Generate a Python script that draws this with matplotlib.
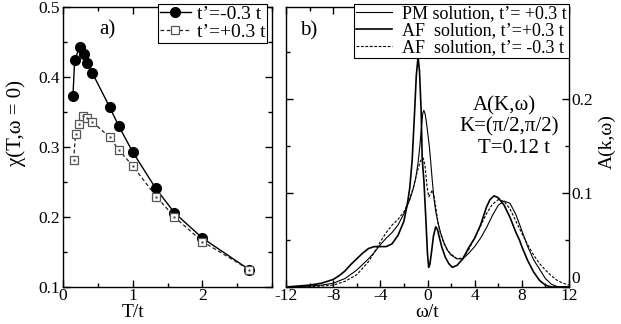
import matplotlib
matplotlib.use("Agg")
import matplotlib.pyplot as plt
from matplotlib.ticker import MultipleLocator, FixedLocator

plt.rcParams['font.family'] = ['Liberation Serif', 'DejaVu Serif']

# ---------------- panel a data ----------------
T_neg = [0.143, 0.167, 0.24, 0.30, 0.345, 0.42, 0.67, 0.80, 1.0, 1.33, 1.6, 2.0, 2.67]
chi_neg = [0.373, 0.424, 0.443, 0.433, 0.420, 0.406, 0.357, 0.330, 0.293, 0.241, 0.206, 0.170, 0.125]
T_pos = [0.153, 0.18, 0.23, 0.29, 0.35, 0.42, 0.67, 0.80, 1.0, 1.34, 1.6, 2.0, 2.67]
chi_pos = [0.282, 0.319, 0.333, 0.344, 0.342, 0.336, 0.314, 0.296, 0.273, 0.229, 0.200, 0.165, 0.125]
label_neg = "t\u2019=-0.3 t"
label_pos = "t\u2019=+0.3 t"
xticks_a = [0, 1, 2]

# ---------------- panel b data ----------------
w_pm = [-12, -11, -10, -9, -8, -7, -6, -5, -4.5, -4, -3.5, -3, -2.5, -2, -1.5, -1.2, -1.0,
        -0.8, -0.65, -0.5, -0.4, -0.31, -0.2, -0.1, 0.0, 0.15, 0.26, 0.4, 0.55, 0.7, 0.9,
        1.1, 1.4, 1.7, 2.0, 2.5, 3.0, 3.5, 4.0, 4.5, 5.0, 5.5, 6.0, 6.5, 7.0, 7.5, 8.0,
        8.5, 9.0, 9.5, 10.0, 10.5, 11.0, 12.0]
A_pm = [0.0, 0.0005, 0.001, 0.002, 0.004, 0.009, 0.018, 0.030, 0.037, 0.045, 0.052, 0.058,
        0.066, 0.078, 0.093, 0.105, 0.116, 0.132, 0.150, 0.172, 0.185, 0.188, 0.184, 0.176,
        0.166, 0.150, 0.135, 0.114, 0.094, 0.080, 0.068, 0.058, 0.047, 0.039, 0.034, 0.030,
        0.030, 0.036, 0.043, 0.052, 0.063, 0.076, 0.087, 0.0915, 0.089, 0.077, 0.060,
        0.043, 0.029, 0.019, 0.009, 0.003, 0.0005, 0.0]

w_af_pos = [-12, -11, -10, -9, -8, -7.5, -7, -6.5, -6, -5.5, -5, -4.5, -4, -3.5, -3, -2.5,
            -2.0, -1.7, -1.5, -1.3, -1.1, -0.95, -0.8, -0.68, -0.54, -0.45, -0.3, -0.15,
            0.0, 0.1, 0.2, 0.35, 0.5, 0.7, 0.85, 1.0, 1.2, 1.5, 1.8, 2.1, 2.5, 3.0, 3.5,
            4.0, 4.5, 5.0, 5.3, 5.65, 6.0, 6.5, 7.0, 7.5, 7.8, 8.0, 8.5, 9.0, 9.5, 10.0,
            10.5, 12.0]
A_af_pos = [0.0, 0.001, 0.002, 0.004, 0.008, 0.012, 0.017, 0.024, 0.030, 0.036, 0.041,
            0.043, 0.043, 0.043, 0.046, 0.055, 0.070, 0.089, 0.106, 0.135, 0.185, 0.225,
            0.245, 0.230, 0.188, 0.137, 0.112, 0.075, 0.035, 0.021, 0.024, 0.038, 0.054,
            0.064, 0.061, 0.053, 0.043, 0.032, 0.025, 0.021, 0.023, 0.030, 0.042, 0.052,
            0.066, 0.085, 0.093, 0.097, 0.095, 0.087, 0.074, 0.058, 0.050, 0.043, 0.028,
            0.016, 0.007, 0.002, 0.0, 0.0]

w_af_neg = [-12, -10, -9, -8, -7, -6, -5, -4.5, -4, -3.5, -3, -2.5, -2, -1.5, -1.2, -1.0,
            -0.8, -0.6, -0.45, -0.35, -0.2, -0.05, 0.1, 0.25, 0.4, 0.55, 0.7, 0.9, 1.1,
            1.4, 1.7, 2.0, 2.5, 3.0, 3.5, 4.0, 4.5, 5.0, 5.5, 6.0, 6.5, 7.0, 7.5, 8.0, 8.5,
            9.0, 9.5, 10.0, 10.5, 11.0, 11.5, 12.0]
A_af_neg = [0.0, 0.0005, 0.001, 0.002, 0.006, 0.013, 0.027, 0.037, 0.048, 0.058, 0.066,
            0.072, 0.080, 0.094, 0.106, 0.116, 0.126, 0.134, 0.137, 0.137, 0.128, 0.108,
            0.096, 0.099, 0.103, 0.097, 0.085, 0.068, 0.057, 0.046, 0.039, 0.035, 0.030,
            0.031, 0.040, 0.052, 0.065, 0.078, 0.088, 0.093, 0.091, 0.083, 0.070, 0.057,
            0.045, 0.034, 0.025, 0.018, 0.012, 0.007, 0.004, 0.002]

leg_b = ["PM solution, t\u2019= +0.3 t", "AF  solution, t\u2019=+0.3 t", "AF  solution, t\u2019= -0.3 t"]
xticks_b = [-12, -8, -4, 0, 4, 8, 12]
yticks_b = [0, 0.1, 0.2]

FS = 12.5      # tick labels
FS_LB = 13     # legend b
FS_LA = 14     # legend a
FS_AX = 14     # axis labels
FS_T = 15      # annotations

fig = plt.figure(figsize=(6.21, 3.24), dpi=100)
axa = fig.add_axes([63/621, 1-287/324, (272-63)/621, 280/324])
axb = fig.add_axes([286/621, 1-287/324, (569-286)/621, 280/324])

def style(ax):
    ax.tick_params(which='both', direction='in', top=True, right=True, left=True, bottom=True,
                   labelsize=FS, width=1.0, pad=2)
    ax.tick_params(which='major', length=5)
    ax.tick_params(which='minor', length=3)
    ax.tick_params(axis='x', pad=1)
    for s in ax.spines.values():
        s.set_linewidth(1.0)

# panel a
axa.plot(T_neg, chi_neg, '-', color='black', lw=1.0, marker='o', ms=7,
         mfc='black', mec='black', label=label_neg)
axa.plot(T_pos, chi_pos, color='#222222', lw=0.9, ls=(0, (3, 2)), marker='s', ms=6,
         mfc='white', mec='#555555', mew=0.9, label=label_pos)
axa.plot(T_pos, chi_pos, ls='none', marker='.', ms=1.5, color='#555555')
axa.set_xlim(0, 3)
axa.set_ylim(0.1, 0.5)
axa.xaxis.set_major_locator(FixedLocator(xticks_a))
axa.xaxis.set_minor_locator(MultipleLocator(0.5))
axa.yaxis.set_major_locator(MultipleLocator(0.1))
axa.yaxis.set_minor_locator(MultipleLocator(0.05))
style(axa)
axa.set_xlabel("T/t", fontsize=FS_AX)
axa.xaxis.set_label_coords(0.335, -0.062)
axa.set_ylabel("\u03c7(T,\u03c9 = 0)", fontsize=FS_AX + 1)
axa.yaxis.set_label_coords(-0.175, 0.586)
axa.text(0.63, 0.467, "a)", fontsize=FS_T, ha='center', va='center')
leg = axa.legend(loc='upper right', bbox_to_anchor=(0.978, 1.012), fontsize=FS_LA,
                 frameon=True, fancybox=False, edgecolor='black', framealpha=1,
                 handlelength=1.6, handletextpad=0.3, borderpad=0.1, labelspacing=0.0,
                 borderaxespad=0)
leg.get_frame().set_linewidth(0.8)

# panel b
axb.plot(w_pm, A_pm, '-', color='black', lw=0.8, label=leg_b[0])
axb.plot(w_af_pos, A_af_pos, '-', color='black', lw=1.2, label=leg_b[1])
axb.plot(w_af_neg, A_af_neg, color='black', lw=0.8, ls=(0, (2.5, 1.5)), label=leg_b[2])
axb.set_xlim(-12, 12)
axb.set_ylim(0, 0.298)
axb.xaxis.set_major_locator(FixedLocator(xticks_b))
axb.xaxis.set_minor_locator(MultipleLocator(2))
axb.yaxis.set_major_locator(FixedLocator(yticks_b))
axb.yaxis.set_minor_locator(MultipleLocator(0.05))
style(axb)
axb.tick_params(labelleft=False, labelright=True)
axb.set_yticklabels(["0", "0.1", "0.2"])
axb.set_xticklabels(["-12", "-8", "-4", "0", "4", "8", "12"])
axb.set_xlabel("\u03c9/t", fontsize=FS_AX)
axb.xaxis.set_label_coords(0.5, -0.062)
axb.yaxis.set_label_position('right')
axb.set_ylabel("A(k,\u03c9)", fontsize=FS_AX, rotation=90)
axb.yaxis.set_label_coords(1.104, 0.518)
axb.text(-10.1, 0.273, "b)", fontsize=FS_T, ha='center', va='center')
axb.text(6.5, 0.193, "A(K,\u03c9)", fontsize=FS_T, ha='center', va='center')
axb.text(6.95, 0.170, "K=(\u03c0/2,\u03c0/2)", fontsize=FS_T, ha='center', va='center')
axb.text(7.35, 0.147, "T=0.12 t", fontsize=FS_T, ha='center', va='center')
legb = axb.legend(loc='upper right', bbox_to_anchor=(1.0, 1.012), fontsize=FS_LB,
                  frameon=True, fancybox=False, edgecolor='black', framealpha=1,
                  handlelength=2.0, handletextpad=0.6, borderpad=0.1, labelspacing=0.0,
                  borderaxespad=0)
legb.get_frame().set_linewidth(0.8)

# lift the "0" label so it sits above the "12" tick label, as in the reference
for lab in axb.yaxis.get_ticklabels(which='major'):
    pass
axb.yaxis.get_major_ticks()[0].label2.set_verticalalignment('bottom')

fig.savefig("out.png", dpi=100)
